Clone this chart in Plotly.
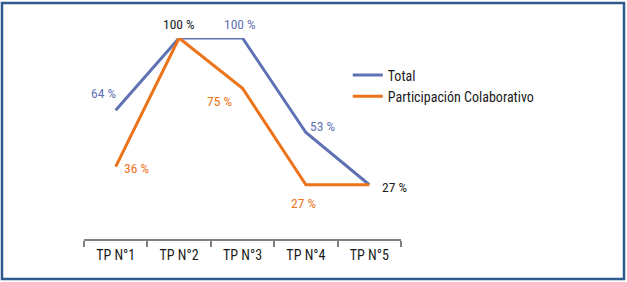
import plotly.graph_objects as go

categories = ["TP N°1", "TP N°2", "TP N°3", "TP N°4", "TP N°5"]
total = [64, 100, 100, 53, 27]
colab = [36, 100, 75, 27, 27]
total_labels = ["64 %", "100 %", "100 %", "53 %", "27 %"]
colab_labels = ["36 %", "", "75 %", "27 %", ""]

BLUE = "#5F72B4"
ORANGE = "#EC7319"
DARK = "#1A1A1A"
FONT = "Liberation Sans Narrow, Roboto Condensed, Arial Narrow, Roboto, sans-serif"

fig = go.Figure()
fig.add_trace(go.Scatter(x=categories, y=total, mode="lines", name="Total",
                         line=dict(color=BLUE, width=3)))
fig.add_trace(go.Scatter(x=categories, y=colab, mode="lines", name="Participación Colaborativo",
                         line=dict(color=ORANGE, width=3)))

# label placement (offsets in px) and colours
t_off = [(-12, 17), (0, 14), (-3, 14), (17, 6), (25, -2)]
t_col = [BLUE, DARK, BLUE, BLUE, DARK]
c_off = [(21, -1), (0, 0), (-23, -13), (-2, -18), (0, 0)]
anns = []
for i, c in enumerate(categories):
    anns.append(dict(x=c, y=total[i], text=total_labels[i], showarrow=False,
                     xshift=t_off[i][0], yshift=t_off[i][1],
                     font=dict(color=t_col[i], size=13.5, family=FONT)))
    if colab_labels[i]:
        anns.append(dict(x=c, y=colab[i], text=colab_labels[i], showarrow=False,
                         xshift=c_off[i][0], yshift=c_off[i][1],
                         font=dict(color=ORANGE, size=13.5, family=FONT)))

fig.update_layout(
    width=627, height=282,
    margin=dict(l=84, r=226, t=38, b=43),
    paper_bgcolor="white", plot_bgcolor="white",
    font=dict(family=FONT, size=14, color=DARK),
    annotations=anns,
    showlegend=True,
    legend=dict(x=0.832, y=0.893, xanchor="left", yanchor="top",
                bgcolor="rgba(0,0,0,0)", font=dict(size=14, color=DARK),
                tracegroupgap=0, itemwidth=30),
    xaxis=dict(type="category", range=[-0.5, 4.5], showgrid=False,
               showline=True, linecolor="#808080", linewidth=2,
               ticks="outside", tickson="boundaries", ticklen=6,
               tickcolor="#808080", tickwidth=2, zeroline=False,
               ticklabelstandoff=2,
               tickfont=dict(size=14, color=DARK, family=FONT)),
    yaxis=dict(range=[0, 100], visible=False, showgrid=False, zeroline=False),
    shapes=[dict(type="rect", xref="paper", yref="paper",
                 x0=-0.2587, x1=1.7035, y0=-0.199, y1=1.174,
                 line=dict(color="#2F5A8E", width=2.5), fillcolor="rgba(0,0,0,0)")],
)

fig.write_html("out.html", config={"displayModeBar": False},
               post_script="document.body.style.margin='0';document.body.style.overflow='hidden';")
